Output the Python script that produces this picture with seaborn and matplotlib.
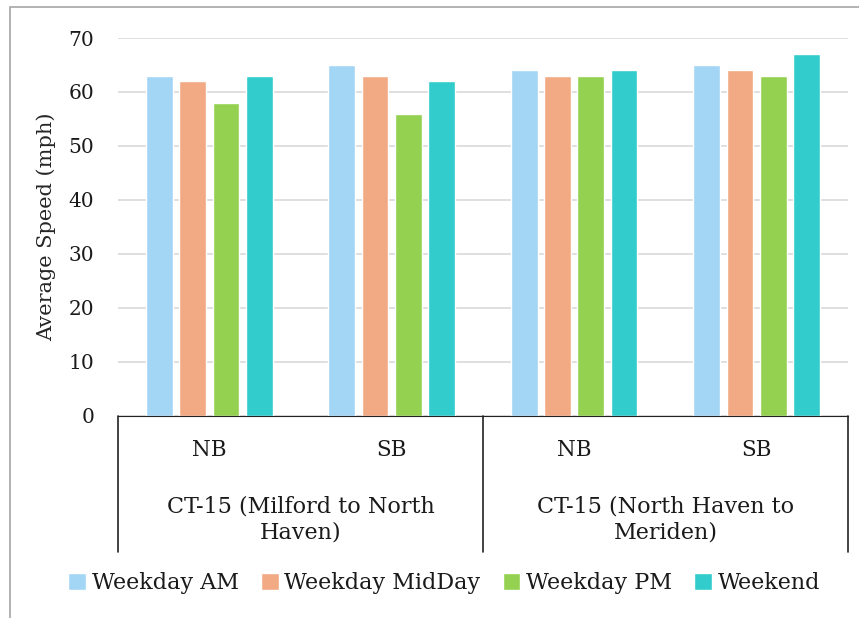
import matplotlib
matplotlib.use("Agg")
import matplotlib.pyplot as plt
from matplotlib.patches import Rectangle
import seaborn as sns
import pandas as pd

# data
corridors = ["CT-15 (Milford to North\nHaven)", "CT-15 (North Haven to\nMeriden)"]
directions = ["NB", "SB"]
periods = ["Weekday AM", "Weekday MidDay", "Weekday PM", "Weekend"]
weekday_am = [63, 65, 64, 65]
weekday_midday = [62, 63, 63, 64]
weekday_pm = [58, 56, 63, 63]
weekend = [63, 62, 64, 67]
colors = ["#A3D6F5", "#F2AA84", "#94D150", "#33CCCC"]

segments = [f"{c}|{d}" for c in corridors for d in directions]
rows = []
for name, vals in zip(periods, [weekday_am, weekday_midday, weekday_pm, weekend]):
    for seg, v in zip(segments, vals):
        rows.append({"segment": seg, "period": name, "speed": v})
df = pd.DataFrame(rows)

sns.set_style("white")
plt.rcParams["font.family"] = ["DejaVu Serif"]
plt.rcParams["text.color"] = "#1a1a1a"
plt.rcParams["ytick.color"] = "#1a1a1a"

fig = plt.figure(figsize=(8.59, 6.18), dpi=100)
ax = fig.add_axes([0.1374, 0.327, 0.8496, 0.6115])

sns.barplot(data=df, x="segment", y="speed", hue="period", order=segments,
            hue_order=periods, palette=colors, saturation=1, width=0.73, gap=0.2,
            edgecolor="white", linewidth=1, ax=ax)

ax.set_ylim(0, 70)
ax.set_yticks(range(0, 71, 10))
ax.set_xlim(-0.5, len(segments) - 0.5)
ax.grid(axis="y", color="#D9D9D9", linewidth=1.2)
ax.set_axisbelow(True)
for s in ["top", "right", "left"]:
    ax.spines[s].set_visible(False)
ax.spines["bottom"].set_color("#222222")
ax.tick_params(axis="y", length=0, labelsize=14.5, pad=17)
ax.set_xticks([])
ax.set_xlabel("")
ax.set_ylabel("Average Speed (mph)", fontsize=15, labelpad=9)

# two-level category axis
trans = ax.get_xaxis_transform()
for i, seg in enumerate(segments):
    ax.text(i, -0.09, seg.split("|")[1], transform=trans, ha="center", va="center", fontsize=15.5)
for j, corr in enumerate(corridors):
    ax.text(j * 2 + 0.5, -0.275, corr, transform=trans, ha="center", va="center",
            fontsize=16, linespacing=1.25)
for x in [-0.5, 1.5, 3.5]:
    ax.plot([x, x], [0, -0.36], transform=trans, color="#222222", linewidth=1.2, clip_on=False)

handles = ax.legend_.legend_handles
ax.legend_.remove()
fig.legend(handles, periods, loc="center", bbox_to_anchor=(0.517, 0.057), ncol=4,
           frameon=False, fontsize=16, handlelength=0.8, handleheight=0.8,
           handletextpad=0.25, columnspacing=1.0)

# outer chart border
fig.patches.append(Rectangle((0.0116, -0.05), 1.1, 1.0387, transform=fig.transFigure,
                             fill=False, edgecolor="#A6A6A6", linewidth=1.2))

fig.savefig("out.png", dpi=100)
